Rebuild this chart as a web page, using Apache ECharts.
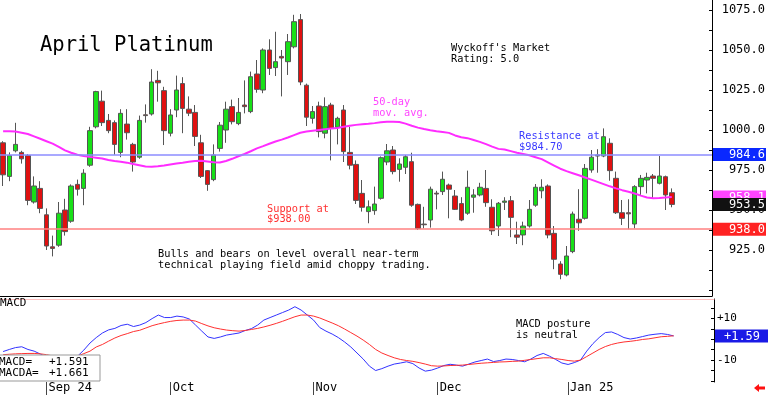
<!DOCTYPE html>
<html><head><meta charset="utf-8">
<script src="https://cdn.jsdelivr.net/npm/echarts@6/dist/echarts.min.js"></script>
<style>html,body{margin:0;padding:0;background:#fff}#c{width:768px;height:395px}</style>
</head><body><div id="c"></div><script>
const MONO = '"DejaVu Sans Mono", monospace';

const opens = [992,971,987,986,984,955,963.5,947,927,928,
950,943,966,963.5,978,1002,1018,1006,1004.6,986,
1003.7,991,983,1009.5,1010,1031,1024.6,998,1012.5,1029,
1013,1011,992,974.6,969,988.5,1000,1014.6,1004,1015.6,
1011.5,1035,1025,1050,1039,1046,1042.7,1052,1069,1028,
1007.3,1015,998,1015.6,1001.7,1012.5,986,978.5,960.4,949,
949.6,957.3,980,987.5,975.4,976.7,980.2,953.5,941.2,943.75,
960.5,961.5,965.6,958.75,954,948,958,959.4,963.5,951.7,
940,954.8,955.8,934.4,934.4,940,953,962,965,935.4,
916.25,909.4,924,944.2,944.8,975,983.75,983.75,991.7,969.8,
948.3,948.3,941.25,964.6,968.75,971.25,966.7,970.8,960.8];
const highs = [993,986,1004.5,987,985,971,968,951,934,955,
957,966,969,975.5,1002,1024.5,1024.6,1010,1006,1013,
1013,992,1009,1016,1038,1037,1027,1013,1034,1033,
1021,1015.6,997,975,991,1005,1017.7,1019,1020,1031,
1036.5,1043.75,1051,1056.7,1061.4,1050,1060,1072,1072.5,1029,
1015,1017.7,1020.4,1017,1008.3,1015.6,1002,981,968.75,956,
964.6,983.5,991.25,990,982.3,984.4,985.8,954,952,964.6,
962,974,966.5,962.5,958,974.6,963,967,975,956.7,
955,958,958.75,942.7,942.7,956.25,966.25,969.2,966,940,
918,927.5,949,963,978.75,987.5,988,1001,994.8,974,
956.25,956.7,965.5,971.9,973.3,972.5,983.75,971.5,963.5];
const lows = [965,968,986,979,953,954,948,925,921,927,
934,942,959,953,977,1001,1002.5,998,984.5,983,
994,974,982,1004.6,1009,1017.7,990.6,996,1008,998,
1008.7,990,970,962,968,986.5,992,1003.5,1003,1010.4,
1010.5,1023.3,1023,1034.4,1033.75,1021,1034.4,1051,1028,1002.5,
1004,995.4,994.8,981,991,980,975.4,953.75,949,941.7,
947,956.5,978,972.3,967.7,972.5,952,937.5,938.5,939,
950.4,959.4,944.8,950,943,947,948.3,958.5,952,934.4,
933.75,950,933,928.75,928,939,952,957.3,932.3,913,
906.7,908.5,923,937,944,973.3,973.3,983,968.3,947.5,
940.6,938,938.5,959.4,960.4,957.3,966,950,951.7];
const closes = [972,984,991,982,956,965,951,927.5,926,948,
936.5,965,963,973,999.6,1024,1004.6,999.6,991,1010.4,
998.3,980,1006,1009,1030,1029.5,999.6,1009.4,1025,1013.5,
1010.5,996,971,966,984.4,1003,1013,1005.2,1011,1014.6,
1033.3,1025.4,1050,1038.5,1042.7,1045,1055.2,1067.7,1030,1008,
1011.5,999,1014.6,1001,1007.3,986.5,978,956,951.7,952,
953.75,982.7,987,974,978.75,983.3,953,938.5,940.8,963,
960,969.2,963,950.4,943.75,964.2,959.4,964.2,954.6,937,
954.2,955.6,945.4,933,940,950.4,964.2,964.2,934.4,919.2,
909.8,921.25,947.5,942,976,983,984.4,995.8,974.6,948.3,
944.8,947.6,964.6,969.8,970.4,969.8,971.25,959.4,953.5];

const ma50 = [999.2,999.2,999,998.3,997.5,996,994.5,993,991.5,989.5,
987.3,985.8,984.5,983.8,983.2,982.7,982.2,981.2,980.6,980.2,
979.6,978.8,978,977.2,977,977.3,977.8,978.4,979,979.5,
980.1,980.6,980.8,980.3,979.8,979.7,980.6,982,983.6,985,
986.7,988.5,989.9,991.4,992.8,994,995.3,996.8,998.3,999,
999.5,1000,1000.5,1000.9,1001.3,1002,1002.6,1003.2,1003.6,1003.9,
1004.3,1004.8,1005.1,1005.2,1005,1004,1002.7,1001.5,1000.6,999.8,
999.2,998.7,998.2,996.6,995.5,994.9,993.8,992.6,991.2,989.6,
988.2,987.8,986.8,985.8,985,984.2,983,981.8,979.8,977.8,
975.8,974.3,973,971.7,970.3,969,967.6,966.2,964.8,963.5,
962.4,961.4,960.3,959,957.8,957.4,957.5,957.8,958.1];

const macd = [-5.9,-4.9,-4.0,-3.6,-4.9,-5.7,-7.1,-8.5,-10.5,-11.9,
-12.4,-10.9,-8.1,-5.2,-1.8,0.8,3.0,4.5,5.2,6.6,
7.2,6.1,6.8,8.0,9.9,11.6,10.4,10.4,11.1,10.7,
9.7,6.8,3.9,1.1,0.4,1.1,2.0,2.5,3.0,4.2,
5.1,6.8,9.2,10.4,11.6,12.8,14.0,15.6,14.0,11.6,
9.2,5.6,3.9,2.5,0.8,-1.3,-3.7,-6.6,-9.5,-12.9,
-15.0,-14.1,-12.9,-11.9,-11.4,-10.8,-11.7,-13.8,-15.3,-14.8,
-13.8,-12.6,-12.0,-12.4,-12.9,-11.9,-10.9,-10.2,-9.5,-10.7,
-10.2,-9.5,-9.7,-10.2,-10.8,-9.5,-7.8,-6.8,-8.1,-9.7,
-11.4,-12.1,-11.2,-10.0,-5.7,-2.1,0.8,3.2,3.5,2.3,
0.8,0.1,0.6,1.3,2.0,2.4,2.7,2.3,1.591];
const macdSignal = [-7.4,-7.2,-7.0,-6.9,-6.8,-6.8,-7.0,-7.4,-8.0,-8.6,
-8.9,-8.6,-8.0,-6.9,-5.7,-3.7,-2.5,-0.9,0.6,1.8,
2.7,3.7,4.3,5.4,6.5,7.3,8.0,8.6,9.0,9.2,
9.2,8.7,7.5,6.4,5.5,4.9,4.4,4.1,3.9,4.2,
4.7,5.2,5.9,6.7,7.6,8.6,9.7,10.8,11.6,11.6,
11.1,10.2,9.0,7.8,6.5,4.9,3.2,1.5,-0.4,-2.5,
-4.9,-6.6,-7.8,-8.9,-9.7,-10.2,-10.6,-11.2,-11.9,-12.7,
-12.9,-12.8,-12.6,-12.5,-12.4,-12.1,-11.8,-11.5,-11.3,-11.1,
-10.9,-10.8,-10.6,-10.5,-10.1,-9.7,-9.3,-8.9,-8.9,-9.3,
-9.7,-10.2,-10.5,-10.0,-8.3,-6.6,-4.9,-3.5,-2.5,-1.8,
-1.3,-1.0,-0.6,-0.1,0.2,0.7,1.2,1.4,1.661];

const priceTicks = [925,950,975,1000,1025,1050,1075];
const priceMinorTicks = [900,912.5,925,937.5,950,962.5,975,987.5,1000,1012.5,1025,1037.5,1050,1062.5,1075];
const macdTicks = [-10,10];
const macdMinorTicks = [-20,-15,-10,-5,0,5,10,15];
const resistance = 984.7, support = 938.0;
const badgeText = {resistance:'984.6', support:'938.0', ma:'958.1', last:'953.5', macd:'+1.59'};
const monthLabels = {'2024-09-03':'Sep 24','2024-10-01':'Oct','2024-11-01':'Nov','2024-12-02':'Dec','2025-01-02':'Jan 25'};
const holidays = ['2024-09-02','2024-11-28','2024-12-25','2025-01-01','2025-01-09','2025-01-20'];

function tradingDays(startStr, n){
  const out=[]; let d=new Date(startStr+'T00:00:00Z');
  while(out.length<n){
    const dow=d.getUTCDay(); const s=d.toISOString().slice(0,10);
    if(dow!==0&&dow!==6&&holidays.indexOf(s)<0) out.push(s);
    d=new Date(d.getTime()+86400000);
  }
  return out;
}
const dates = tradingDays('2024-08-22', opens.length);
const categories = dates.concat(['','','','','','']);
const candleData = opens.map((o,i)=>[o, closes[i], lows[i], highs[i]]);

function badge(text, bg, fg, align){
  return {show:true, position:'end', distance:1, formatter:'{a|'+text+'}',
    backgroundColor:bg, padding:[1,1,0,2],
    rich:{a:{width:50, align:align||'right', color:fg, fontFamily:MONO, fontSize:12, lineHeight:12}}};
}
const isMonth = (i, v) => monthLabels.hasOwnProperty(v);

const chart = echarts.init(document.getElementById('c'), null, {renderer:'canvas'});
chart.setOption({
  animation:false,
  backgroundColor:'#fff',
  grid:[
    {left:-1.5, right:54, top:0, height:296},
    {left:-1.5, right:54, top:299, height:83}
  ],
  xAxis:[
    {type:'category', gridIndex:0, data:categories, boundaryGap:true, position:'bottom',
     axisLine:{show:true, onZero:false, lineStyle:{color:'#000', width:1}}, axisTick:{show:false}, axisLabel:{show:false}, splitLine:{show:false}},
    {type:'category', gridIndex:1, data:categories, boundaryGap:true, position:'bottom',
     axisLine:{show:false, onZero:false},
     axisTick:{show:true, alignWithLabel:true, interval:isMonth, length:13, lineStyle:{color:'#444'}},
     axisLabel:{show:true, interval:isMonth, formatter:v=>monthLabels[v]||'', align:'left', padding:[0,0,0,2], margin:0,
       fontFamily:MONO, fontSize:12, lineHeight:12, color:'#000'},
     splitLine:{show:false}},
    {type:'category', gridIndex:1, data:categories, position:'top', boundaryGap:true,
     axisLine:{show:true, onZero:false, lineStyle:{color:'#ffc0c0', width:1}}, axisTick:{show:false}, axisLabel:{show:false}}
  ],
  yAxis:[
    {type:'value', gridIndex:0, position:'right', min:896.25, max:1081.25,
     axisLine:{show:true, lineStyle:{color:'#000', width:1}},
     axisTick:{show:true, inside:true, length:3, customValues:priceMinorTicks, lineStyle:{color:'#000'}},
     axisLabel:{show:true, customValues:priceTicks, formatter:v=>Number(v).toFixed(1), align:'right', margin:53,
       fontFamily:MONO, fontSize:12, color:'#000'},
     splitLine:{show:false}},
    {type:'value', gridIndex:1, position:'right', min:-20.5, max:19.3,
     axisLine:{show:true, lineStyle:{color:'#000', width:1}},
     axisTick:{show:true, inside:true, length:3, customValues:macdMinorTicks, lineStyle:{color:'#000'}},
     axisLabel:{show:true, customValues:macdTicks, formatter:v=>(v>0?'+':'')+v, margin:3,
       fontFamily:MONO, fontSize:11, color:'#000'},
     splitLine:{show:false}}
  ],
  series:[
    {type:'candlestick', xAxisIndex:0, yAxisIndex:0, data:candleData, barWidth:5,
     itemStyle:{color:'#18e018', color0:'#e01010', borderColor:'#555', borderColor0:'#555', borderWidth:1},
     markLine:{symbol:'none', silent:true, animation:false, precision:2,
       data:[
         {yAxis:resistance, lineStyle:{color:'#8c8cff', width:1.5, type:'solid'}, label:badge(badgeText.resistance,'#0a28ff','#fff')},
         {yAxis:support, lineStyle:{color:'#ff8080', width:1.5, type:'solid'}, label:badge(badgeText.support,'#ff2222','#fff')},
         {yAxis:ma50[ma50.length-1], lineStyle:{color:'rgba(0,0,0,0)', width:0}, label:badge(badgeText.ma,'#ff44ff','#fff')},
         {yAxis:closes[closes.length-1], lineStyle:{color:'rgba(0,0,0,0)', width:0}, label:badge(badgeText.last,'#111','#fff')}
       ]}},
    {type:'line', xAxisIndex:0, yAxisIndex:0, data:ma50, showSymbol:false, smooth:false,
     lineStyle:{color:'#ff2cff', width:2}},
    {type:'line', xAxisIndex:1, yAxisIndex:1, data:macd, showSymbol:false,
     lineStyle:{color:'#3232ff', width:1},
     markLine:{symbol:'none', silent:true, animation:false,
       data:[{yAxis:macd[macd.length-1], lineStyle:{color:'rgba(0,0,0,0)', width:0}, label:badge(badgeText.macd,'#1a1ae6','#fff','center')}]}},
    {type:'line', xAxisIndex:1, yAxisIndex:1, data:macdSignal, showSymbol:false,
     lineStyle:{color:'#ff3030', width:1}}
  ],
  graphic:[
    {type:'text', x:40, y:45.5, z:50, style:{text:'April Platinum', font:'20.5px '+MONO, fill:'#000', verticalAlign:'middle'}},
    {type:'text', x:451, y:43, z:50, style:{text:"Wyckoff's Market\nRating: 5.0", font:'10.3px '+MONO, fill:'#000', lineHeight:11, verticalAlign:'top'}},
    {type:'text', x:373, y:96.5, z:50, style:{text:'50-day\nmov. avg.', font:'10.3px '+MONO, fill:'#ff44ff', lineHeight:11, verticalAlign:'top'}},
    {type:'text', x:519, y:130.8, z:50, style:{text:'Resistance at\n$984.70', font:'10.3px '+MONO, fill:'#3a3aff', lineHeight:11, verticalAlign:'top'}},
    {type:'text', x:267, y:204, z:50, style:{text:'Support at\n$938.00', font:'10.3px '+MONO, fill:'#ff3030', lineHeight:10.5, verticalAlign:'top'}},
    {type:'text', x:158, y:249, z:50, style:{text:'Bulls and bears on level overall near-term\ntechnical playing field amid choppy trading.', font:'10.3px '+MONO, fill:'#000', lineHeight:11, verticalAlign:'top'}},
    {type:'text', x:516, y:318.5, z:50, style:{text:'MACD posture\nis neutral', font:'10.3px '+MONO, fill:'#000', lineHeight:11, verticalAlign:'top'}},
    {type:'text', x:0, y:298, z:50, style:{text:'MACD', font:'11px '+MONO, fill:'#000', lineHeight:11, verticalAlign:'top'}},
    {type:'rect', z:100, shape:{x:-1, y:355, width:101, height:26}, style:{fill:'#fff', stroke:'#999', lineWidth:1}},
    {type:'text', x:-1, y:356.5, z:101, style:{text:'MACD=\nMACDA=', font:'11px '+MONO, fill:'#000', lineHeight:11, verticalAlign:'top'}},
    {type:'text', x:49, y:356.5, z:101, style:{text:'+1.591\n+1.661', font:'11px '+MONO, fill:'#000', lineHeight:11, verticalAlign:'top'}},
    {type:'polygon', z:101, shape:{points:[[754,388],[759,384],[759,386.5],[765,386.5],[765,389.5],[759,389.5],[759,392]]}, style:{fill:'#ff1010'}}
  ]
});
</script></body></html>
